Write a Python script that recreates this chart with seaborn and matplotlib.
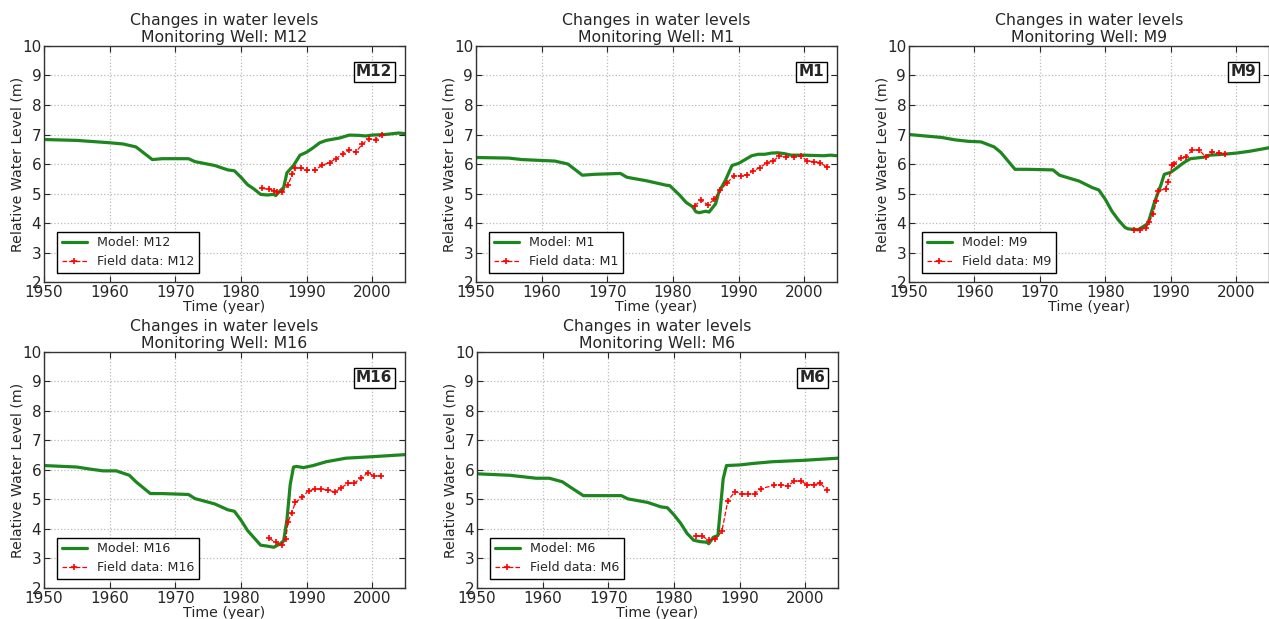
import pandas as pd
import matplotlib
matplotlib.use('Agg')
import matplotlib.pyplot as plt
import seaborn as sns

# ---- data ----
wells = ['M12', 'M1', 'M9', 'M16', 'M6']

model_years = {
    'M12': [1950, 1955, 1960, 1962, 1964, 1966.5, 1968, 1972, 1973, 1976, 1978, 1979, 1980, 1981, 1982, 1983,
            1984, 1985, 1985.3, 1986, 1986.5, 1987, 1988, 1989, 1990, 1991, 1992, 1993, 1995, 1996.5, 1998, 1999,
            2000, 2002, 2004, 2005],
    'M1': [1950, 1955, 1957, 1960, 1962, 1964, 1966.2, 1968, 1972, 1973, 1976, 1979, 1979.5, 1981, 1982, 1983,
           1983.5, 1984, 1985, 1985.5, 1986.5, 1987, 1988, 1989, 1990, 1991, 1992, 1993, 1994, 1995, 1996, 1997,
           1998, 2000, 2003, 2004, 2005],
    'M9': [1950, 1955, 1957, 1959, 1961, 1963, 1964, 1966.2, 1968, 1972, 1973, 1976, 1978, 1979, 1980, 1981,
           1982, 1983, 1983.5, 1985, 1986.5, 1987.5, 1988.5, 1989, 1990, 1991, 1992, 1993, 1995, 1996, 1998,
           2000, 2002, 2005],
    'M16': [1950, 1955, 1957, 1959, 1961, 1963, 1964, 1966.2, 1968, 1972, 1973, 1976, 1978, 1979, 1980, 1981,
            1982, 1983, 1984, 1985, 1986, 1986.5, 1987, 1987.5, 1988, 1988.5, 1989.5, 1991, 1993, 1996, 2000,
            2005],
    'M6': [1950, 1955, 1957, 1959, 1961, 1963, 1964, 1966.2, 1968, 1972, 1973, 1976, 1978, 1979, 1980, 1981,
           1982, 1983, 1984, 1985, 1985.3, 1986, 1986.7, 1987.5, 1988, 1990, 1992, 1995, 2000, 2005],
}
model_levels = {
    'M12': [6.83, 6.8, 6.72, 6.68, 6.58, 6.15, 6.18, 6.18, 6.08, 5.95, 5.8, 5.77, 5.55, 5.3, 5.15, 4.97,
            4.95, 4.97, 4.93, 5.1, 5.2, 5.7, 5.95, 6.3, 6.4, 6.55, 6.72, 6.8, 6.88, 6.98, 6.97, 6.95,
            6.98, 7.0, 7.05, 7.03],
    'M1': [6.22, 6.2, 6.15, 6.12, 6.1, 6.0, 5.62, 5.65, 5.68, 5.55, 5.43, 5.28, 5.27, 4.95, 4.7, 4.55,
           4.38, 4.35, 4.4, 4.37, 4.65, 5.05, 5.45, 5.95, 6.02, 6.15, 6.28, 6.33, 6.33, 6.37, 6.38, 6.35,
           6.3, 6.3, 6.28, 6.3, 6.28],
    'M9': [7.0, 6.9, 6.82, 6.77, 6.75, 6.58, 6.4, 5.82, 5.82, 5.8, 5.62, 5.42, 5.2, 5.12, 4.8, 4.4,
           4.1, 3.85, 3.8, 3.77, 3.98, 4.7, 5.3, 5.65, 5.72, 5.88, 6.05, 6.18, 6.23, 6.3, 6.33,
           6.37, 6.43, 6.55],
    'M16': [6.15, 6.1, 6.03, 5.97, 5.97, 5.82, 5.6, 5.2, 5.2, 5.17, 5.03, 4.85, 4.65, 4.6, 4.3, 3.95,
            3.7, 3.45, 3.42, 3.38, 3.5, 3.6, 4.3, 5.5, 6.1, 6.12, 6.08, 6.15, 6.28, 6.4, 6.45, 6.52],
    'M6': [5.87, 5.82, 5.77, 5.72, 5.72, 5.6, 5.45, 5.13, 5.13, 5.13, 5.02, 4.9, 4.75, 4.72, 4.48, 4.2,
           3.85, 3.62, 3.57, 3.55, 3.5, 3.72, 3.78, 5.7, 6.15, 6.17, 6.22, 6.28, 6.33, 6.4],
}

field_years = {
    'M12': [1983.2, 1984.2, 1985, 1985.5, 1986.3, 1987.2, 1987.8, 1988.2, 1989.2, 1990, 1991.3, 1992.3,
            1993.5, 1994.5, 1995.5, 1996.5, 1997.5, 1998.5, 1999.5, 2000.5, 2001.5],
    'M1': [1983.3, 1984.3, 1985.3, 1986.3, 1987.2, 1988.3, 1989.3, 1990.3, 1991.3, 1992.2, 1993.3, 1994.3,
           1995.3, 1996.2, 1997.3, 1998.4, 1999.5, 2000.5, 2001.5, 2002.4, 2003.4],
    'M9': [1984.3, 1985.3, 1986.2, 1986.7, 1987.3, 1987.8, 1988.1, 1989.2, 1989.6, 1990.2, 1990.5, 1991.5,
           1992.3, 1993.3, 1994.3, 1995.3, 1996.3, 1997.3, 1998.3],
    'M16': [1984.3, 1985.3, 1986.2, 1986.8, 1987.2, 1987.7, 1988.3, 1989.3, 1990.3, 1991.3, 1992.2, 1993.3,
            1994.3, 1995.3, 1996.3, 1997.2, 1998.3, 1999.3, 2000.3, 2001.3],
    'M6': [1983.3, 1984.3, 1985.3, 1986.3, 1987.3, 1988.2, 1989.3, 1990.3, 1991.3, 1992.3, 1993.3, 1995.3,
           1996.3, 1997.3, 1998.3, 1999.3, 2000.3, 2001.3, 2002.3, 2003.3],
}
field_levels = {
    'M12': [5.17, 5.15, 5.1, 5.05, 5.05, 5.3, 5.65, 5.87, 5.87, 5.78, 5.8, 5.95, 6.05, 6.18, 6.35, 6.47,
            6.4, 6.68, 6.85, 6.83, 7.0],
    'M1': [4.58, 4.77, 4.62, 4.8, 5.12, 5.37, 5.6, 5.6, 5.63, 5.77, 5.88, 6.05, 6.1, 6.28, 6.23, 6.25,
           6.27, 6.1, 6.08, 6.05, 5.9],
    'M9': [3.78, 3.78, 3.82, 4.05, 4.3, 4.75, 5.1, 5.15, 5.4, 5.95, 6.0, 6.2, 6.25, 6.47, 6.48, 6.25,
           6.42, 6.38, 6.35],
    'M16': [3.68, 3.55, 3.45, 3.65, 4.25, 4.55, 4.9, 5.07, 5.3, 5.35, 5.35, 5.32, 5.25, 5.4, 5.55, 5.55,
            5.72, 5.9, 5.8, 5.8],
    'M6': [3.77, 3.75, 3.63, 3.65, 3.92, 4.95, 5.27, 5.2, 5.18, 5.2, 5.37, 5.48, 5.5, 5.45, 5.62, 5.63,
           5.5, 5.5, 5.55, 5.32],
}

# ---- style ----
sns.set_style('ticks', {'xtick.direction': 'in', 'ytick.direction': 'in',
                        'axes.edgecolor': '#333333', 'grid.linestyle': ':'})
plt.rcParams['font.family'] = ['DejaVu Sans']
plt.rcParams['xtick.top'] = True
plt.rcParams['ytick.right'] = True

fig = plt.figure(figsize=(12.69, 6.19), dpi=100)

# axes boxes [left, bottom, width, height] in figure fraction
boxes = [
    [0.0347, 0.5444, 0.2845, 0.3813],
    [0.3751, 0.5444, 0.2845, 0.3813],
    [0.7163, 0.5444, 0.2837, 0.3813],
    [0.0347, 0.0501, 0.2845, 0.3813],
    [0.3759, 0.0501, 0.2845, 0.3813],
]

for well, box in zip(wells, boxes):
    ax = fig.add_axes(box)
    model_df = pd.DataFrame({'year': model_years[well], 'level': model_levels[well]})
    field_df = pd.DataFrame({'year': field_years[well], 'level': field_levels[well]})

    sns.lineplot(data=model_df, x='year', y='level', ax=ax, color='#1e861e', linewidth=2.3,
                 estimator=None, sort=False, label=f'Model: {well}')
    sns.lineplot(data=field_df, x='year', y='level', ax=ax, color='red', linewidth=0.9,
                 linestyle='--', dashes=(3, 3), marker='+', markersize=5, markeredgewidth=1.2,
                 markeredgecolor='red', estimator=None, sort=False, label=f'Field data: {well}')

    ax.set_xlim(1950, 2005)
    ax.set_ylim(2, 10)
    ax.set_xticks([1950, 1960, 1970, 1980, 1990, 2000])
    ax.set_yticks(range(2, 11))
    ax.tick_params(labelsize=11, length=4, width=0.8, pad=2)
    ax.grid(True, linestyle=':', color='#bbbbbb', linewidth=0.9)
    for sp in ax.spines.values():
        sp.set_linewidth(1.0)

    ax.set_title(f'Changes in water levels\nMonitoring Well: {well}', fontsize=11.3, linespacing=1.15, pad=3)
    ax.set_xlabel('Time (year)', fontsize=10.2, labelpad=0)
    ax.set_ylabel('Relative Water Level (m)', fontsize=10.2, labelpad=-1.5)

    ax.text(0.965, 0.89, well, transform=ax.transAxes, ha='right', va='center',
            fontsize=11, fontweight='bold',
            bbox=dict(boxstyle='square,pad=0.15', facecolor='white', edgecolor='black', linewidth=1.0))

    leg = ax.legend(loc='lower left', fontsize=9.1, fancybox=False, framealpha=1,
                    edgecolor='black', handlelength=2.0, borderpad=0.35, labelspacing=0.45,
                    bbox_to_anchor=(0.037, 0.04), borderaxespad=0)
    leg.get_frame().set_linewidth(1.0)

fig.savefig('out.png', dpi=100)
